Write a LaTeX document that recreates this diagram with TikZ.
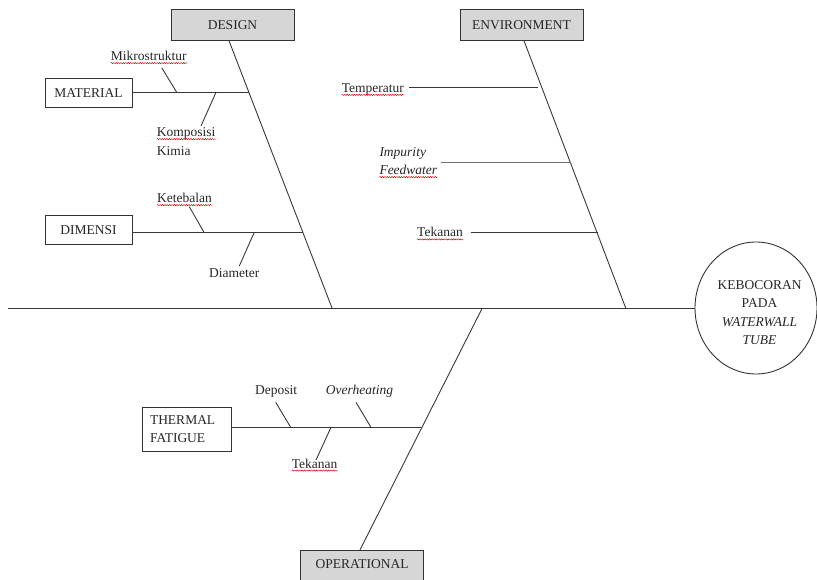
\documentclass[tikz,border=0pt]{standalone}
\usepackage{fontspec}
\setmainfont{Liberation Serif}
\usetikzlibrary{shapes.geometric,decorations.pathmorphing,calc}
\begin{document}
\begin{tikzpicture}[x=1pt,y=-1pt,
  txt/.style={inner sep=0pt, font=\fontsize{13.5}{18.5}\selectfont, text=black!85},
  itx/.style={txt, font=\fontsize{13.5}{18.5}\selectfont\itshape},
  catbox/.style={draw=black!80, line width=0.9pt, inner sep=0pt, font=\fontsize{13.5}{18.5}\selectfont, text=black!85},
  headbox/.style={catbox, fill=black!16, minimum width=123pt, minimum height=31pt},
  subbox/.style={catbox, fill=white, minimum width=87pt, minimum height=29pt},
  bone/.style={draw=black!78, line width=0.9pt},
  thinbone/.style={draw=black!55, line width=0.7pt},
  spell/.style={draw=red!85!black, line width=0.45pt, decorate, decoration={snake, amplitude=0.6pt, segment length=2.4pt}},
]
\useasboundingbox (0,0) rectangle (817,580);

% category boxes
\node[headbox] (design) at (232.5,24.8) {DESIGN};
\node[headbox] (env) at (521.5,24.8) {ENVIRONMENT};
\node[headbox, minimum width=122.5pt, minimum height=34pt, text depth=6pt] (oper) at (362,567.3) {OPERATIONAL};
\node[subbox] (material) at (88.5,93) {MATERIAL};
\node[subbox] (dimensi) at (88.5,229.8) {DIMENSI};
\node[catbox, fill=white, minimum width=89pt, minimum height=44pt, text width=73pt, align=left] (thermal) at (186.5,429) {THERMAL\\FATIGUE};

% effect
\node[draw=black!80, line width=0.9pt, ellipse, minimum width=122pt, minimum height=132pt, inner sep=0pt] (effect) at (756,308) {};
\node[txt, align=center] (effecttext) at (759.5,312.4) {KEBOCORAN\\PADA\\\textit{WATERWALL}\\\textit{TUBE}};

% main spine and category bones
\coordinate (tail) at (8,308);
\coordinate (dhead) at (332,308);
\coordinate (ehead) at (625.7,308);
\coordinate (ohead) at (482.3,308);
\draw[bone] (tail) -- (effect.west);
\draw[bone] ([xshift=-3.5pt]design.south) -- (dhead);
\draw[bone] ([xshift=2.5pt]env.south) -- (ehead);
\draw[bone] (ohead) -- ([xshift=-2pt]oper.north);

% design branches
\coordinate (dmat) at (249.3,92.3);
\coordinate (ddim) at (302.7,232.3);
\draw[bone] (material.east |- dmat) -- (dmat);
\draw[bone] (dimensi.east |- ddim) -- (ddim);

\coordinate (mk1) at (161.7,67.7);  \coordinate (mk2) at (176.7,92.3);
\coordinate (kp1) at (216,92.3);    \coordinate (kp2) at (201,126);
\coordinate (kt1) at (189.3,206.7); \coordinate (kt2) at (204,232.3);
\coordinate (dm1) at (254.3,232.3); \coordinate (dm2) at (239.3,266);
\draw[bone] (mk1) -- (mk2);
\draw[bone] (kp1) -- (kp2);
\draw[bone] (kt1) -- (kt2);
\draw[bone] (dm1) -- (dm2);

\node[txt, anchor=base] (mikro) at (148.8,60.5) {Mikrostruktur};
\node[txt, anchor=base west] (kompo) at (156.7,136.5) {Komposisi};
\node[txt, anchor=base west] (kimia) at (156.7,155.3) {Kimia};
\node[txt, anchor=base west] (ketebalan) at (157,202.5) {Ketebalan};
\node[txt, anchor=base west] (diameter) at (209,277.5) {Diameter};

% environment branches
\coordinate (et1) at (409,87.7);   \coordinate (et2) at (538,87.7);
\coordinate (ei1) at (441,162.3);  \coordinate (ei2) at (570.5,162.3);
\coordinate (ek1) at (470.7,232.7); \coordinate (ek2) at (597.5,232.7);
\draw[bone] (et1) -- (et2);
\draw[thinbone] (ei1) -- (ei2);
\draw[bone] (ek1) -- (ek2);

\node[txt, anchor=base west] (temp) at (341.7,92.3) {Temperatur};
\node[itx, anchor=base west] (impur) at (379.3,156.2) {Impurity};
\node[itx, anchor=base west] (feed) at (379.3,174.5) {Feedwater};
\node[txt, anchor=base west] (tekE) at (417,236.8) {Tekanan};

% operational branches
\coordinate (oth) at (421,427.3);
\draw[bone] (thermal.east |- oth) -- (oth);
\coordinate (dp1) at (275.7,402.3); \coordinate (dp2) at (290.7,427.3);
\coordinate (ov1) at (356,402.3);   \coordinate (ov2) at (371,427.3);
\coordinate (tk1) at (331,427.3);   \coordinate (tk2) at (316,460);
\draw[bone] (dp1) -- (dp2);
\draw[bone] (ov1) -- (ov2);
\draw[bone] (tk1) -- (tk2);

\node[txt, anchor=base west] (deposit) at (255,394.5) {Deposit};
\node[itx, anchor=base west] (overh) at (325.7,394.5) {Overheating};
\node[txt, anchor=base west] (tekO) at (291.7,468) {Tekanan};

% spell-check underlines
\foreach \w in {mikro,kompo,ketebalan,temp,feed,tekE,tekO}{
  \draw[spell] ([yshift=-2.6pt]\w.base west) -- ([yshift=-2.6pt]\w.base east);
}
\end{tikzpicture}
\end{document}
